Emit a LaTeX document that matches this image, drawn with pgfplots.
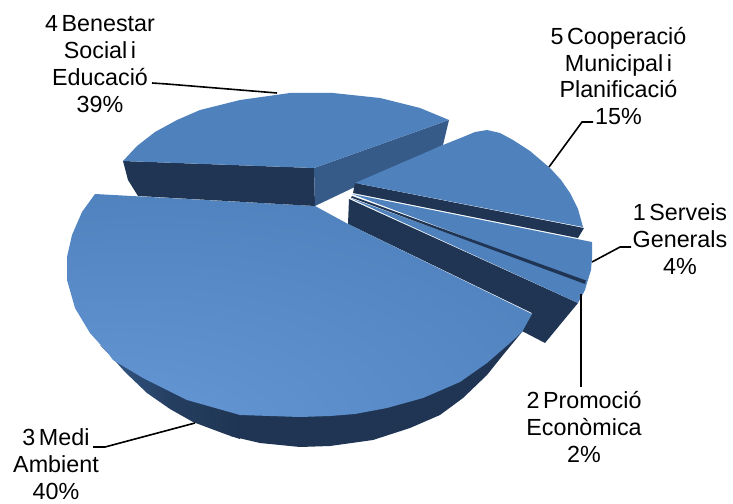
\documentclass[border=0pt]{standalone}
\usepackage{fontspec}
\setmainfont[WordSpace=0.55]{Liberation Sans}
\usepackage{pgfplots}
\pgfplotsset{compat=1.18}
\definecolor{pietop}{HTML}{4F81BD}
\definecolor{pieglow}{HTML}{6A9CDB}
\definecolor{piemid}{HTML}{5F91CF}
\definecolor{piedark}{HTML}{1F3553}
\definecolor{pieedge}{HTML}{365B89}
\pgfdeclareradialshading{medi}{\pgfpoint{-24bp}{-36bp}}{%
  color(0bp)=(pieglow); color(18bp)=(piemid); color(50bp)=(pietop); color(120bp)=(pietop)}
\tikzset{
lbl/.style={font=\fontsize{23.4}{27}\selectfont, align=center, inner sep=0pt, text=black},
leader/.style={draw=black, line width=1.6bp, fill=none},
}
\begin{document}
\begin{tikzpicture}
\path[use as bounding box] (0,0) rectangle (733bp,504bp);
\begin{axis}[
at={(0,0)}, anchor=south west,
scale only axis, width=733bp, height=504bp,
xmin=0, xmax=733, ymin=0, ymax=504,
y dir=reverse,
hide axis,
clip=false,
no markers,
every axis plot/.append style={draw=none},
]
% side of 3 Medi Ambient
\addplot[fill=piedark] coordinates {
(230,436) (260,443) (300,447) (330,446) (373,440) (410,428) (440,415) (463,398) (487,375) (503,355) (522,332) (532,314) (500,330) (230,400)};
\addplot[left color=pieedge, right color=piedark, middle color=piedark!75!pieedge] coordinates {
(100,345) (108,353) (125,372) (147,393) (170,409) (193,422) (225,434) (240,439) (240,410) (187,395) (113,355)};
% side of 2 Promocio
\addplot[fill=piedark] coordinates {
(349,199) (578,303) (545,343) (522,331) (532,313) (348,224)};
% tops of 2 and 1
\addplot[fill=pietop] coordinates {
(350,198) (587,283) (585,290) (578,303)};
\addplot[fill=pietop] coordinates {
(352,194) (592,242) (592,258) (591,270) (587,283)};
\addplot[fill=piedark] coordinates {
(352,196) (586,280.5) (585,284) (351,197.5)};
% 3 Medi Ambient top
\addplot[shading=medi] coordinates {
(95,194) (315,206) (348,224) (532,314) (522,332) (510,343) (487,363) (460,382) (423,398)
(387,408) (355,414) (330,416) (300,417) (240,415) (187,400) (143,378) (113,360) (108,353)
(90,333) (75,308) (67,280) (67,257) (72,235) (82,212)};
% 4 Benestar
\addplot[fill=piedark] coordinates {
(123,161) (314,168) (315,206) (138,196) (128,180)};
\addplot[fill=pieedge] coordinates {
(314,168) (449,120) (443,145) (315,206)};
\addplot[fill=pietop] coordinates {
(123,161) (137,146) (155,132) (177,120) (200,110) (240,100) (290,93) (333,93) (380,98)
(420,108) (449,120) (314,168)};
% 5 Cooperacio
\addplot[fill=piedark] coordinates {
(355,183) (584,228) (578,238) (353,193)};
\addplot[fill=pietop] coordinates {
(355,183) (443,145) (463,137) (475,132) (487,130) (500,133) (513,140) (530,151) (550,168)
(561,180) (570,193) (578,209) (583,227)};
% leaders
\addplot[leader] coordinates {(152,83) (167,84) (277,93)};
\addplot[leader] coordinates {(593,122) (582,122) (549,167)};
\addplot[leader] coordinates {(631,247) (620,247) (592,262)};
\addplot[leader] coordinates {(581,294) (581,387)};
\addplot[leader] coordinates {(93,447) (105,447) (195,423)};
% labels
\node[lbl] at (axis cs:100,64) {4 Benestar\\Social i\\Educació\\39\%};
\node[lbl] at (axis cs:618.5,76) {5 Cooperació\\Municipal i\\Planificació\\15\%};
\node[lbl] at (axis cs:680,239) {1 Serveis\\Generals\\4\%};
\node[lbl] at (axis cs:584,427) {2 Promoció\\Econòmica\\2\%};
\node[lbl] at (axis cs:56,464.5) {3 Medi\\Ambient\\40\%};
\end{axis}
\end{tikzpicture}
\end{document}
